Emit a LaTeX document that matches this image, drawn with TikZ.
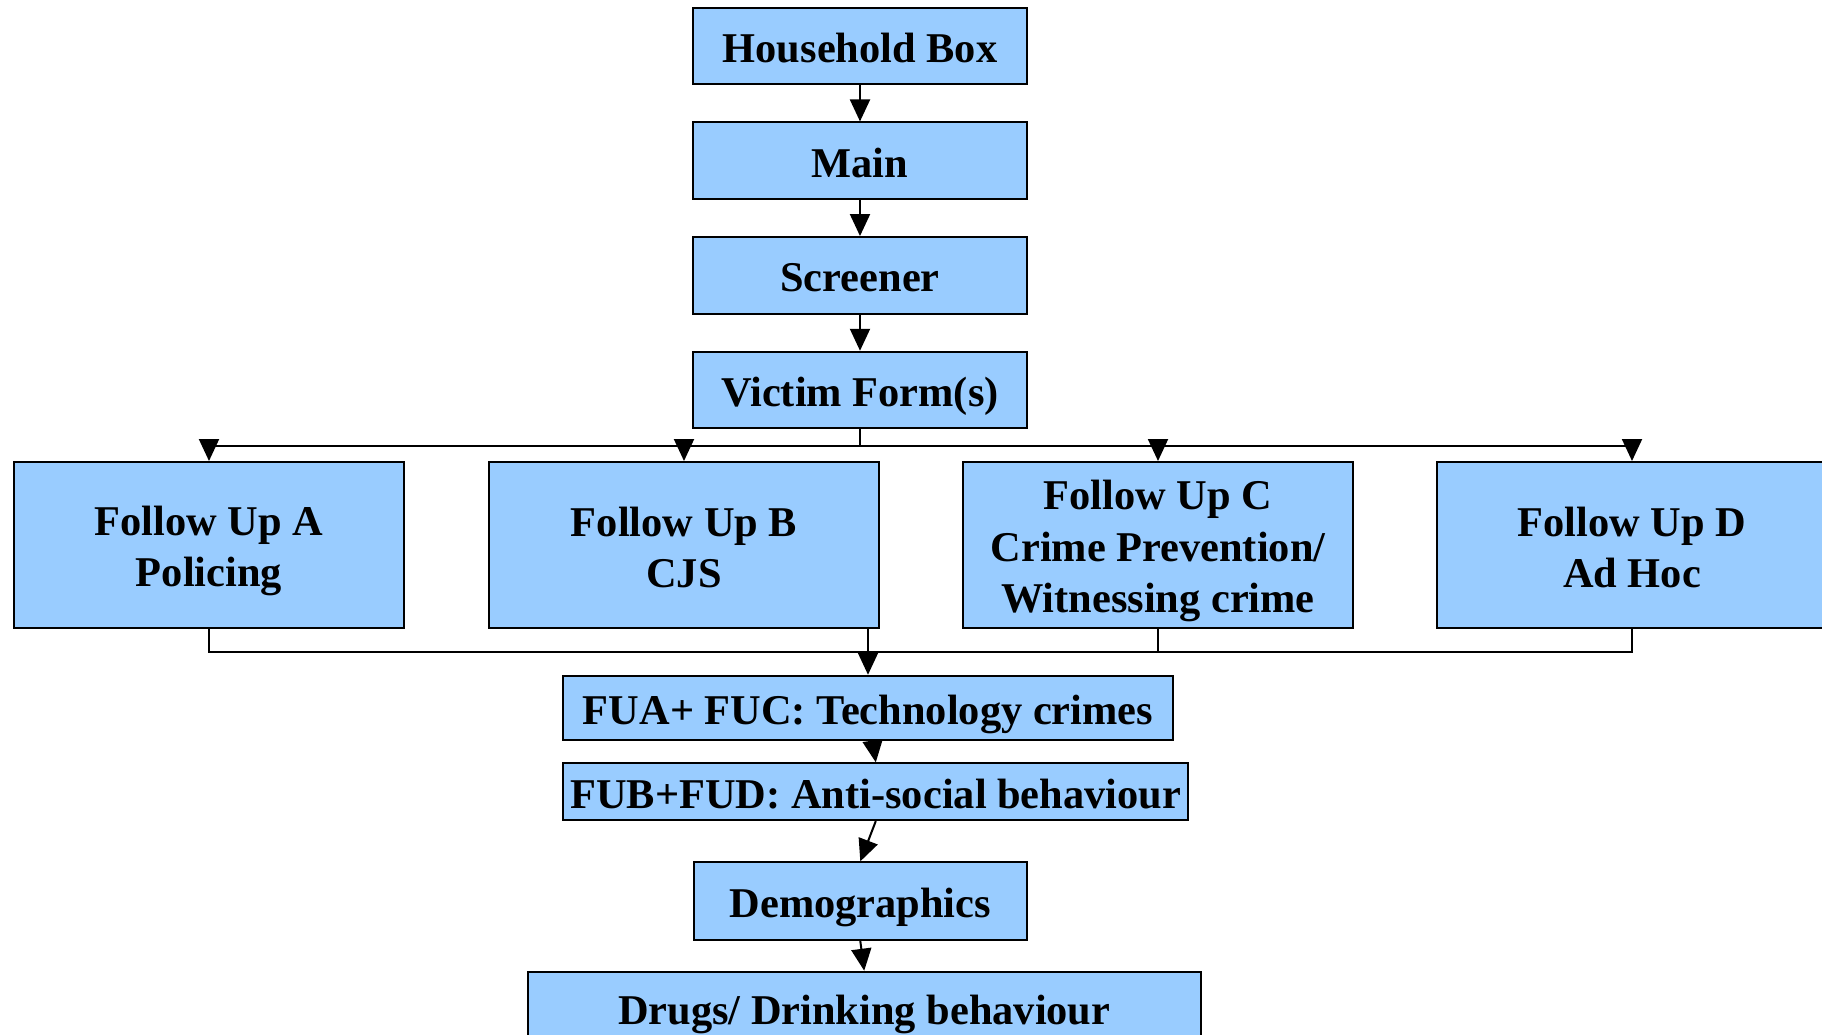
\documentclass[tikz,border=0pt]{standalone}
\usepackage{fontspec}
\setmainfont{Liberation Serif}
\usetikzlibrary{arrows.meta}
\definecolor{boxblue}{HTML}{99CCFF}
\tikzset{
  txt/.style={inner sep=0pt, align=center, font=\fontsize{42.4}{51.5}\selectfont\bfseries},
  box/.style={txt, draw=black, line width=2pt, fill=boxblue},
  one/.style={text height=33pt, text depth=0pt},
  conn/.style={line width=2pt, draw=black},
  arr/.style={conn, -{Triangle[length=22pt,width=20pt]}}
}
\begin{document}
\begin{tikzpicture}[x=1pt,y=-1pt]
\clip (0,0) rectangle (1822,1035);
\fill[white] (0,0) rectangle (1822,1035);
% top column
\node[box,one,minimum width=333.4pt,minimum height=75.7pt] (hh) at (860,46.2) {Household Box};
\node[box,one,minimum width=333.4pt,minimum height=76.5pt] (main) at (860,160.7) {Main};
\node[box,one,minimum width=333.4pt,minimum height=76.5pt] (scr) at (860,275.3) {Screener};
\node[box,one,minimum width=333.4pt,minimum height=76.5pt] (vic) at (860,390) {Victim Form(s)};
% follow ups
\node[box,minimum width=390pt,minimum height=166pt,
  label={[txt,name=fAt,yshift=-6pt]center:{Follow Up A\\Policing}}] (fA) at (209,545) {};
\node[box,minimum width=390pt,minimum height=166pt,
  label={[txt,name=fBt,yshift=-2.5pt]center:{Follow Up B\\CJS}}] (fB) at (684,545) {};
\node[box,minimum width=390pt,minimum height=166pt,
  label={[txt,name=fCt,yshift=-6pt]center:{Follow Up C\\Crime Prevention/\\Witnessing crime}}] (fC) at (1158,545) {};
\node[box,minimum width=390pt,minimum height=166pt,
  label={[txt,name=fDt,yshift=-2.5pt]center:{Follow Up D\\Ad Hoc}}] (fD) at (1632,545) {};
% lower column
\node[box,one,minimum width=609.4pt,minimum height=64.3pt] (fua) at (868,707.9) {FUA+ FUC: Technology crimes};
\node[box,one,minimum width=625pt,minimum height=56.7pt] (fub) at (875.8,791.7) {FUB+FUD: Anti-social behaviour};
\node[box,one,minimum width=332.7pt,minimum height=77.7pt] (demo) at (860.3,901.2) {Demographics};
\node[box,one,minimum width=673.2pt,minimum height=73.4pt] (drug) at (864.2,1008.4) {Drugs/ Drinking behaviour};
% connectors top
\draw[arr] (hh.south) -- (main.north);
\draw[arr] (main.south) -- (scr.north);
\draw[arr] (scr.south) -- (vic.north);
\coordinate (busT) at (860,445.7);
\coordinate (busB) at (209,651.7);
\draw[conn] (vic.south) -- (busT);
\draw[conn] (fA.north |- busT) -- (fD.north |- busT);
\draw[arr] (fA.north |- busT) -- (fA.north);
\draw[arr] (fB.north |- busT) -- (fB.north);
\draw[arr] (fC.north |- busT) -- (fC.north);
\draw[arr] (fD.north |- busT) -- (fD.north);
% bottom bus
\draw[conn] (fA.south) -- (busB) -| (fD.south);
\draw[conn] (fC.south) -- (fC.south |- busB);
\draw[arr] (fua.north |- fB.south) -- (fua.north);
% lower connectors
\draw[arr] ([xshift=4.7pt]fua.south) -- (fub.north);
\draw[arr] (fub.south) -- (demo.north);
\draw[arr] (demo.south) -- (drug.north);
\end{tikzpicture}
\end{document}
